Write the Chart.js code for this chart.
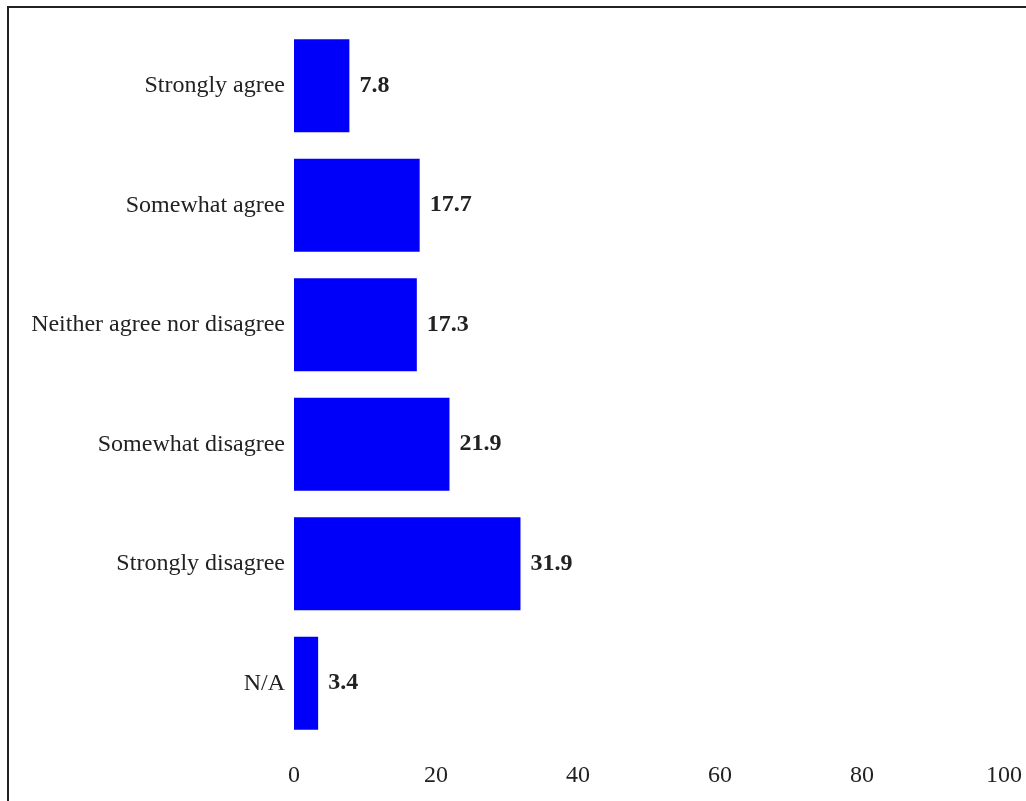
<!DOCTYPE html>
<html><head><meta charset="utf-8">
<script src="https://cdn.jsdelivr.net/npm/chart.js@4"></script>
<style>
html,body{margin:0;padding:0;background:#fff;}
#wrap{position:relative;width:1026px;height:801px;overflow:hidden;}
#frame{position:absolute;left:7px;top:6px;width:1100px;height:900px;border-left:2px solid #222;border-top:2px solid #222;}
canvas{position:absolute;left:0;top:0;}
</style></head>
<body><div id="wrap"><div id="frame"></div><canvas id="c" width="1026" height="801"></canvas></div>
<script>
const categories = ["Strongly agree","Somewhat agree","Neither agree nor disagree","Somewhat disagree","Strongly disagree","N/A"];
const values = [7.8, 17.7, 17.3, 21.9, 31.9, 3.4];
const xTicks = [0,20,40,60,80,100];

const valueLabels = {
  id:'valueLabels',
  afterDatasetsDraw(chart){
    const ctx = chart.ctx;
    const meta = chart.getDatasetMeta(0);
    ctx.save();
    ctx.font = 'bold 24px "Liberation Serif", serif';
    ctx.fillStyle = '#222';
    ctx.textAlign = 'left';
    ctx.textBaseline = 'middle';
    meta.data.forEach((bar,i)=>{
      ctx.fillText(values[i].toFixed(1), bar.x + 10, bar.y);
    });
    ctx.restore();
  }
};

new Chart(document.getElementById('c'), {
  type:'bar',
  data:{labels:categories, datasets:[{data:values, backgroundColor:'#0000FA', borderWidth:0, categoryPercentage:1, barPercentage:0.78}]},
  options:{
    indexAxis:'y', responsive:false, animation:false,
    layout:{padding:{top:26,right:22,left:0,bottom:0}},
    plugins:{legend:{display:false}, tooltip:{enabled:false}},
    scales:{
      x:{min:0,max:100,
        afterBuildTicks(s){ s.ticks = xTicks.map(v=>({value:v})); },
        afterFit(s){ s.height = 58; s.paddingRight = 0; s.paddingLeft = 0; },
        grid:{display:false, drawTicks:false}, border:{display:false},
        ticks:{padding:18, color:'#222', font:{family:'"Liberation Serif", serif', size:24}}},
      y:{afterFit(s){ s.width = 294; s.paddingTop = 0; s.paddingBottom = 0; },
        grid:{display:false, drawTicks:false}, border:{display:false},
        ticks:{padding:9, color:'#222', font:{family:'"Liberation Serif", serif', size:24}}}
    }
  },
  plugins:[valueLabels]
});
</script></body></html>
